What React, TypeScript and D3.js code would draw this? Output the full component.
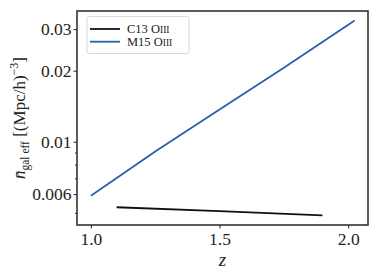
import React, { useEffect, useRef } from 'react';
import * as d3 from 'd3';

// M15 OIII
const m15Z = [1.0, 1.25, 1.5, 1.75, 2.025];
const m15N = [0.0059, 0.00909, 0.0137, 0.0206, 0.0326];
// C13 OIII
const c13Z = [1.1, 1.5, 1.9];
const c13N = [0.00528, 0.00508, 0.00488];

const xTicks = [1.0, 1.5, 2.0];
const yTicks = [0.006, 0.01, 0.02, 0.03];
const yMinorTicks = [0.005, 0.007, 0.008, 0.009];

const FONT = "'Liberation Serif', 'DejaVu Serif', serif";

export default function App() {
  const ref = useRef<SVGSVGElement>(null);

  useEffect(() => {
    const width = 379;
    const height = 277;
    const margin = { top: 11, right: 11, bottom: 52, left: 77 };
    const svg = d3.select(ref.current);
    svg.selectAll('*').remove();

    const xScale = d3.scaleLinear().domain([0.946, 2.077]).range([margin.left, width - margin.right]);
    const yScale = d3.scaleLog().domain([0.00444, 0.0358]).range([height - margin.bottom, margin.top]);

    const line = d3
      .line<[number, number]>()
      .x(d => xScale(d[0]))
      .y(d => yScale(d[1]));

    // lines
    svg
      .append('path')
      .datum(c13Z.map((z, i) => [z, c13N[i]] as [number, number]))
      .attr('fill', 'none')
      .attr('stroke', '#111')
      .attr('stroke-width', 1.8)
      .attr('d', line);
    svg
      .append('path')
      .datum(m15Z.map((z, i) => [z, m15N[i]] as [number, number]))
      .attr('fill', 'none')
      .attr('stroke', '#2462ad')
      .attr('stroke-width', 1.8)
      .attr('d', line);

    // axes
    const xAxis = svg
      .append('g')
      .attr('transform', `translate(0,${height - margin.bottom})`)
      .call(d3.axisBottom(xScale).tickValues(xTicks).tickSize(3.5).tickPadding(4).tickFormat(d3.format('.1f')));
    const yAxis = svg
      .append('g')
      .attr('transform', `translate(${margin.left},0)`)
      .call(
        d3
          .axisLeft(yScale)
          .tickValues(yTicks)
          .tickSize(3.5)
          .tickPadding(2)
          .tickFormat(d => String(d)),
      );
    svg
      .append('g')
      .attr('transform', `translate(${margin.left},0)`)
      .call(d3.axisLeft(yScale).tickValues(yMinorTicks).tickSize(2).tickFormat(() => ''))
      .call(g => g.select('.domain').remove());

    [xAxis, yAxis].forEach(g => {
      g.select('.domain').remove();
      g.attr('font-family', null).attr('font-size', null);
      g.selectAll('.tick text')
        .attr('fill', '#222')
        .attr('font-family', FONT)
        .attr('font-size', 17.5);
    });
    svg.selectAll('.tick line').attr('stroke', '#222').attr('stroke-width', 1);

    // frame
    svg
      .append('rect')
      .attr('x', margin.left)
      .attr('y', margin.top)
      .attr('width', width - margin.left - margin.right)
      .attr('height', height - margin.top - margin.bottom)
      .attr('fill', 'none')
      .attr('stroke', '#333')
      .attr('stroke-width', 1.6);

    // legend
    const lg = svg.append('g');
    lg.append('rect')
      .attr('x', 87)
      .attr('y', 16.5)
      .attr('width', 102)
      .attr('height', 37)
      .attr('rx', 2.5)
      .attr('fill', 'white')
      .attr('stroke', '#d8d8d8')
      .attr('stroke-width', 1);
    const items = [
      { label: 'C13 O', color: '#111', y: 29 },
      { label: 'M15 O', color: '#2462ad', y: 41.7 },
    ];
    items.forEach(it => {
      lg.append('line')
        .attr('x1', 90)
        .attr('x2', 120)
        .attr('y1', it.y)
        .attr('y2', it.y)
        .attr('stroke', it.color)
        .attr('stroke-width', 1.8);
      const t = lg
        .append('text')
        .attr('x', 127)
        .attr('y', it.y + 4.3)
        .attr('fill', '#222')
        .attr('font-family', FONT)
        .attr('font-size', 12.5)
        .text(it.label);
      t.append('tspan').attr('font-size', 9.5).text('III');
    });

    // x label
    svg
      .append('text')
      .attr('x', (margin.left + width - margin.right) / 2)
      .attr('y', 266)
      .attr('text-anchor', 'middle')
      .attr('fill', '#222')
      .attr('font-family', FONT)
      .attr('font-style', 'italic')
      .attr('font-size', 19)
      .text('z');

    // y label
    const yl = svg
      .append('text')
      .attr('transform', `translate(25,${(margin.top + height - margin.bottom) / 2}) rotate(-90)`)
      .attr('text-anchor', 'middle')
      .attr('fill', '#222')
      .attr('font-family', FONT)
      .attr('font-size', 17);
    yl.append('tspan').attr('font-style', 'italic').text('n\u0304');
    yl.append('tspan').attr('dy', 4).attr('font-size', 11.5).text('gal eff');
    yl.append('tspan').attr('dy', -4).text(' [(Mpc/h)');
    yl.append('tspan').attr('dy', -7).attr('font-size', 12).text('\u22123');
    yl.append('tspan').attr('dy', 7).text(']');
  }, []);

  return (
    <svg
      ref={ref}
      width={379}
      height={277}
      style={{ position: 'absolute', left: 0, top: 0, background: 'white' }}
    />
  );
}
